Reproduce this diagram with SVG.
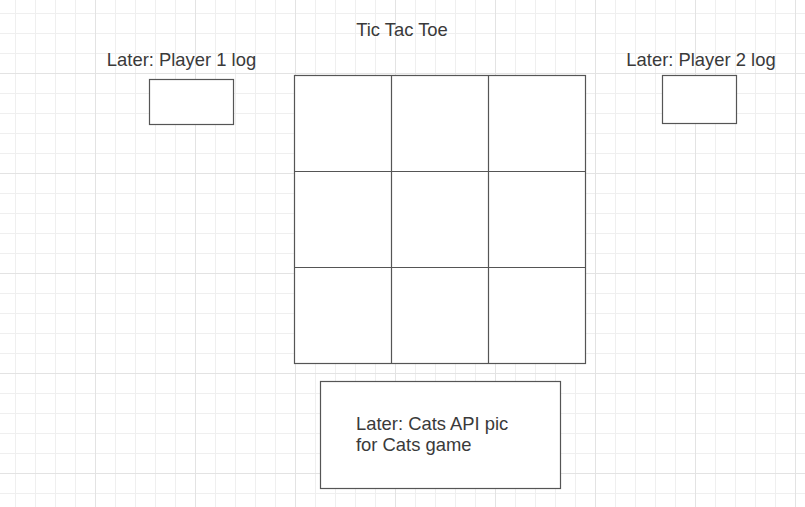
<svg xmlns="http://www.w3.org/2000/svg" width="805" height="507" viewBox="0 0 805 507">
<defs>
<pattern id="minor" x="15" y="13" width="20" height="20" patternUnits="userSpaceOnUse">
<path d="M0.5 0V20M0 0.5H20" fill="none" stroke="#efefef" stroke-width="1"/>
</pattern>
<pattern id="major" x="95" y="73" width="100" height="100" patternUnits="userSpaceOnUse">
<path d="M0.5 0V100M0 0.5H100" fill="none" stroke="#e3e3e3" stroke-width="1"/>
</pattern>
</defs>
<style>
.box{fill:#fff;stroke:#555;stroke-width:1.2}
.line{stroke:#555;stroke-width:1.2;fill:none}
.t{font-family:"Liberation Sans",Arial,sans-serif;font-size:18.4px;fill:#3a3a3a}
</style>
<rect width="805" height="507" fill="#fff"/>
<rect width="805" height="507" fill="url(#minor)"/>
<rect width="805" height="507" fill="url(#major)"/>
<g id="title"><text class="t" x="402" y="36" text-anchor="middle">Tic Tac Toe</text></g>
<g id="player1">
<text class="t" x="181.5" y="66" text-anchor="middle">Later: Player 1 log</text>
<rect class="box" x="149.5" y="79.5" width="84" height="45"/>
</g>
<g id="player2">
<text class="t" x="701" y="66" text-anchor="middle">Later: Player 2 log</text>
<rect class="box" x="662.5" y="75.5" width="74" height="48"/>
</g>
<g id="board">
<rect class="box" x="294.5" y="75.5" width="291" height="288"/>
<path class="line" d="M391.5 75.5V363.5M488.5 75.5V363.5M294.5 171.5H585.5M294.5 267.5H585.5"/>
</g>
<g id="cats">
<rect class="box" x="320.5" y="381.5" width="240" height="107"/>
<text class="t" x="356" y="430">Later: Cats API pic</text>
<text class="t" x="356" y="451">for Cats game</text>
</g>
<g id="connectors"></g>
</svg>
